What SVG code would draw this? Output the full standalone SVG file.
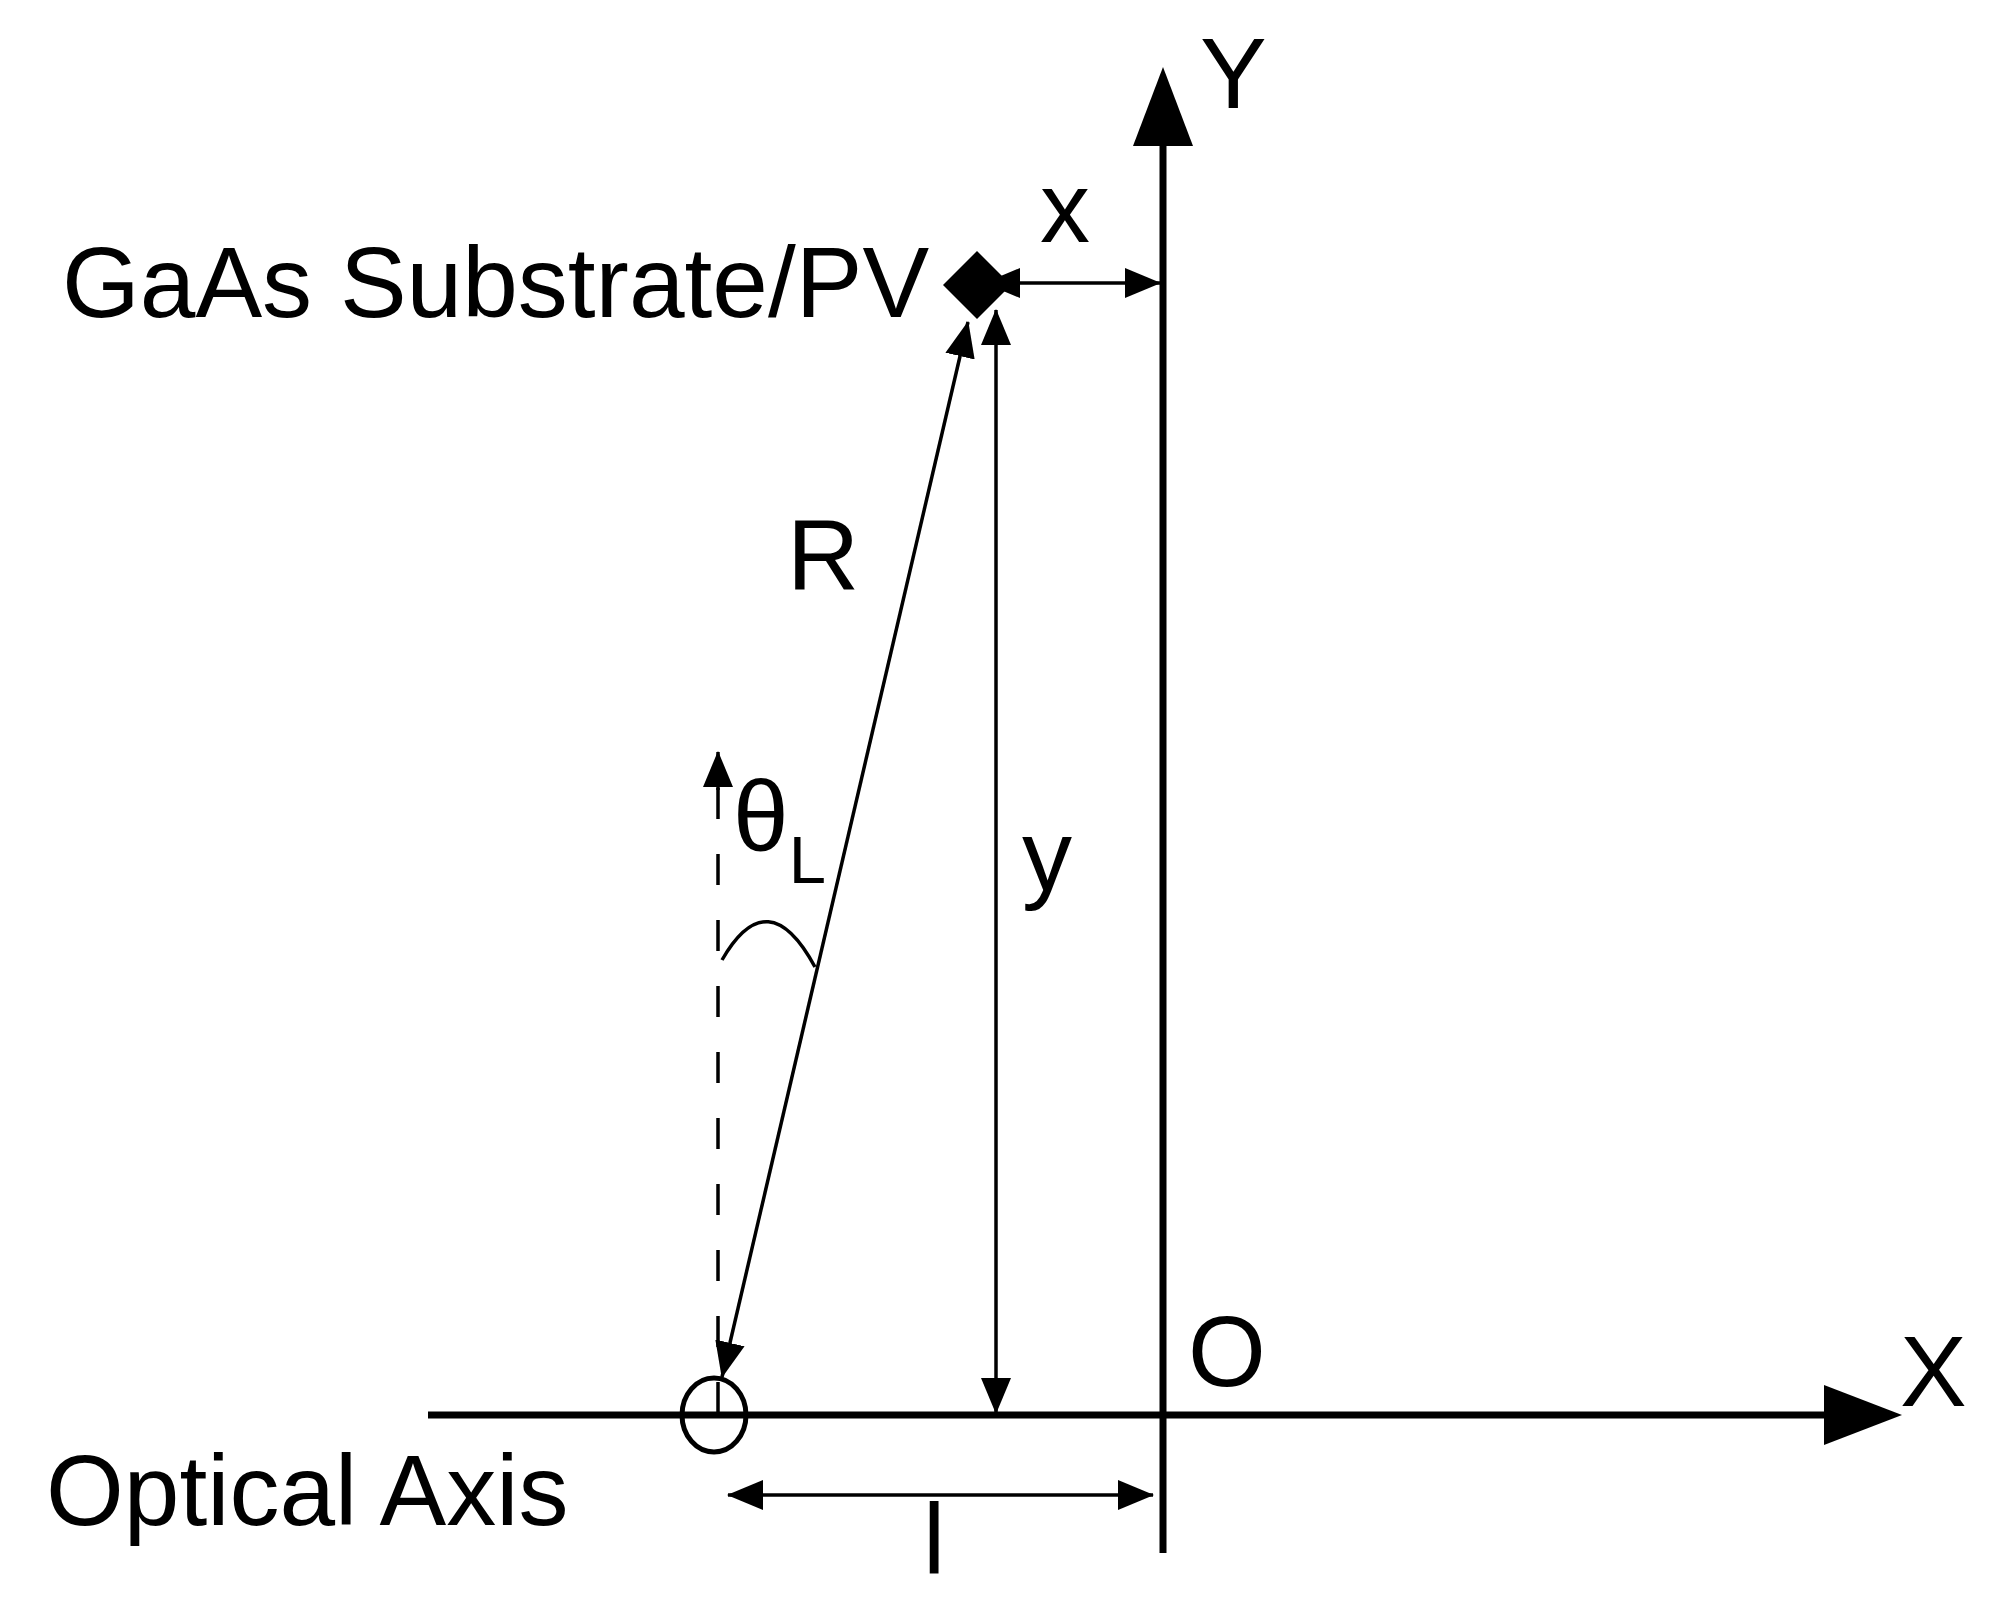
<svg xmlns="http://www.w3.org/2000/svg" width="2003" height="1611" viewBox="0 0 2003 1611">
<style>
  text { font-family: "Liberation Sans", Arial, sans-serif; fill: #000; font-size: 100px; }
  .axis { stroke: #000; stroke-width: 7; fill: none; }
  .dim { stroke: #000; stroke-width: 3.5; fill: none; }
  .dash { stroke: #000; stroke-width: 3.5; fill: none; stroke-dasharray: 31 35; }
  .head { fill: #000; stroke: none; }
</style>
<defs>
  <marker id="arrowS" viewBox="0 0 36 30" markerWidth="36" markerHeight="30" refX="35" refY="15" orient="auto-start-reverse" markerUnits="userSpaceOnUse">
    <path d="M0,0 L36,15 L0,30 z" fill="#000"/>
  </marker>
</defs>
<rect width="2003" height="1611" fill="#fff"/>

<g id="connectors">
  <line id="x-axis" class="axis" x1="428" y1="1415" x2="1830" y2="1415"/>
  <polygon id="x-axis-head" class="head" points="1824,1385 1902,1415 1824,1445"/>
  <line id="y-axis" class="axis" x1="1163" y1="1553" x2="1163" y2="140"/>
  <polygon id="y-axis-head" class="head" points="1133,146 1163,67 1193,146"/>
  <line id="dim-x" class="dim" x1="985" y1="283" x2="1160" y2="283" marker-start="url(#arrowS)" marker-end="url(#arrowS)"/>
  <line id="dim-y" class="dim" x1="996" y1="310" x2="996" y2="1413" marker-start="url(#arrowS)" marker-end="url(#arrowS)"/>
  <line id="dim-R" class="dim" x1="968" y1="322" x2="722" y2="1377" marker-start="url(#arrowS)" marker-end="url(#arrowS)"/>
  <line id="dim-l" class="dim" x1="728" y1="1495" x2="1153" y2="1495" marker-start="url(#arrowS)" marker-end="url(#arrowS)"/>
  <line id="normal-dash" class="dash" x1="718" y1="788" x2="718" y2="1414"/>
  <line id="normal-head" class="dim" x1="718" y1="790" x2="718" y2="752" marker-end="url(#arrowS)"/>
  <path id="angle-arc" class="dim" d="M722,960 Q768,880 815,967"/>
</g>

<g id="source">
  <polygon points="977,251 1011,285 977,319 943,285" fill="#000"/>
  <text x="62" y="317">GaAs Substrate/PV</text>
</g>

<g id="detector">
  <ellipse cx="714" cy="1415" rx="32" ry="37" fill="none" stroke="#000" stroke-width="5"/>
  <text x="46" y="1525">Optical Axis</text>
</g>

<g id="labels">
  <text x="1200" y="108">Y</text>
  <text x="1900" y="1406">X</text>
  <text x="1188" y="1386">O</text>
  <text x="1040" y="242">x</text>
  <text x="1022" y="890">y</text>
  <text x="787" y="590">R</text>
  <text x="923" y="1574">l</text>
  <text x="733" y="851">θ<tspan font-size="67" dy="32">L</tspan></text>
</g>
</svg>
